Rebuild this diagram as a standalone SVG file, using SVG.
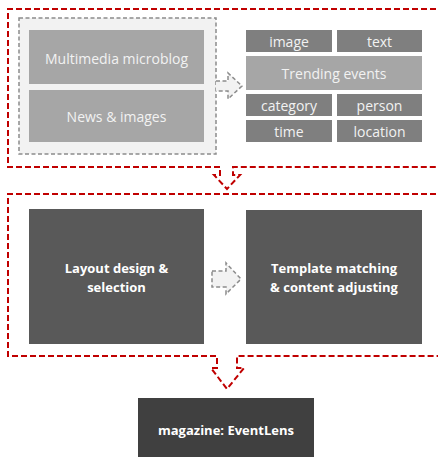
<svg xmlns="http://www.w3.org/2000/svg" width="438" height="457" viewBox="0 0 438 457">
<style>
.red{fill:none;stroke:#c00000;stroke-width:2;stroke-dasharray:6 3}
.gd{stroke:#8c8c8c;stroke-width:1.5;stroke-dasharray:4 2.5;fill:#f2f2f2}
.t{font-family:"Open Sans","Noto Sans",sans-serif;font-size:14px;fill:#f2f2f2;text-anchor:middle;dominant-baseline:central}
.b{font-family:"Open Sans","Noto Sans",sans-serif;font-size:13px;font-weight:bold;fill:#ffffff;text-anchor:middle;dominant-baseline:central}
.mid{fill:#a6a6a6}
.sm{fill:#7f7f7f}
.dk{fill:#595959}
</style>
<rect width="438" height="457" fill="#ffffff"/>
<g id="frame-sources">
<path class="red" d="M445,9 H8 V167 H220 V175 H214 L227,189 L240,175 H233 V167 H445"/>
</g>
<g id="frame-layout">
<path class="red" d="M445,194 H8 V356 H217 V368 H211 L227,389 L244,368 H237 V356 H445"/>
</g>
<g id="sources">
<rect class="gd" x="19" y="18" width="197" height="136"/>
</g>
<g id="multimedia-microblog">
<rect class="mid" x="29" y="30" width="175" height="54"/>
<text class="t" x="116.5" y="58">Multimedia microblog</text>
</g>
<g id="news-images">
<rect class="mid" x="29" y="90" width="175" height="52"/>
<text class="t" x="116.5" y="116">News &amp; images</text>
</g>
<g id="image">
<rect class="sm" x="246" y="30" width="86" height="22"/>
<text class="t" x="289" y="41">image</text>
</g>
<g id="text">
<rect class="sm" x="337" y="30" width="85" height="22"/>
<text class="t" x="379.5" y="41">text</text>
</g>
<g id="trending-events">
<rect class="mid" x="246" y="56" width="176" height="34"/>
<text class="t" x="334" y="73">Trending events</text>
</g>
<g id="category">
<rect class="sm" x="246" y="94" width="86" height="22"/>
<text class="t" x="289" y="105">category</text>
</g>
<g id="person">
<rect class="sm" x="337" y="94" width="85" height="22"/>
<text class="t" x="379.5" y="105">person</text>
</g>
<g id="time">
<rect class="sm" x="246" y="120" width="86" height="22"/>
<text class="t" x="289" y="131">time</text>
</g>
<g id="location">
<rect class="sm" x="337" y="120" width="85" height="22"/>
<text class="t" x="379.5" y="131">location</text>
</g>
<g id="layout-design">
<rect class="dk" x="29" y="209" width="175" height="135"/>
<text class="b" x="116.5" y="268">Layout design &amp;</text>
<text class="b" x="116.5" y="287">selection</text>
</g>
<g id="template-matching">
<rect class="dk" x="246" y="210" width="176" height="134"/>
<text class="b" x="334" y="268">Template matching</text>
<text class="b" x="334" y="287">&amp; content adjusting</text>
</g>
<g id="magazine">
<rect fill="#404040" x="138" y="398" width="176" height="70"/>
<text class="b" x="226" y="430">magazine: EventLens</text>
</g>
<g id="connectors">
<path class="gd" d="M216,81 H228 V73 L242,86 L228,99 V91 H216"/>
<path class="gd" d="M212,271 H226 V263 L241,279 L226,294 V287 H212 Z"/>
</g>
</svg>
